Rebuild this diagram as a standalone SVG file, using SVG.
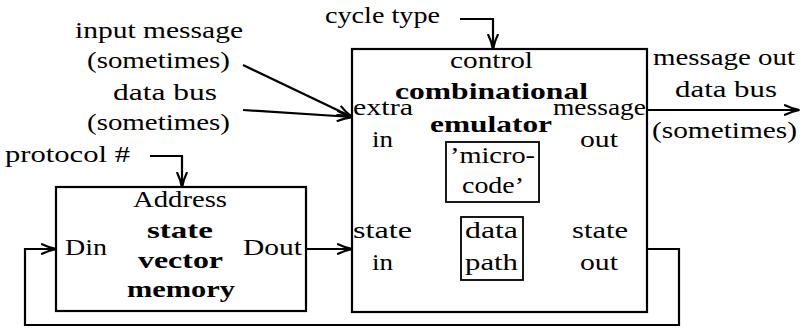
<svg xmlns="http://www.w3.org/2000/svg" width="802" height="328" viewBox="0 0 802 328">
  <style>
    text { font-family: "Liberation Serif", "Times New Roman", serif; font-size: 23px; fill: #000; }
    .b { font-weight: bold; }
    .box { fill: none; stroke: #000; stroke-width: 2.2; }
    .inner { fill: none; stroke: #000; stroke-width: 1.8; }
    .wire { fill: none; stroke: #000; stroke-width: 2.2; }
  </style>
  <defs>
    <marker id="arrow" viewBox="0 0 16 12" refX="15.5" refY="6" markerWidth="16" markerHeight="12" orient="auto" markerUnits="userSpaceOnUse">
      <path d="M0.5,0.8 Q8,4.6 16,6 Q8,7.4 0.5,11.2" fill="none" stroke="#000" stroke-width="2.2"/>
    </marker>
  </defs>

  <!-- free-standing labels -->
  <g id="labels">
    <text x="75" y="38" textLength="168" lengthAdjust="spacingAndGlyphs">input message</text>
    <text x="87" y="68" textLength="143" lengthAdjust="spacingAndGlyphs">(sometimes)</text>
    <text x="113" y="100" textLength="104" lengthAdjust="spacingAndGlyphs">data bus</text>
    <text x="87" y="130" textLength="143" lengthAdjust="spacingAndGlyphs">(sometimes)</text>
    <text x="5" y="162" textLength="125" lengthAdjust="spacingAndGlyphs">protocol #</text>
    <text x="325" y="23" textLength="115" lengthAdjust="spacingAndGlyphs">cycle type</text>
    <text x="653" y="65" textLength="142" lengthAdjust="spacingAndGlyphs">message out</text>
    <text x="675" y="97" textLength="102" lengthAdjust="spacingAndGlyphs">data bus</text>
    <text x="652" y="138" textLength="145" lengthAdjust="spacingAndGlyphs">(sometimes)</text>
  </g>

  <!-- state vector memory -->
  <g id="memory">
    <rect class="box" x="56" y="187" width="250" height="124"/>
    <text x="133" y="207" textLength="94" lengthAdjust="spacingAndGlyphs">Address</text>
    <text class="b" x="147" y="238" textLength="66" lengthAdjust="spacingAndGlyphs">state</text>
    <text class="b" x="138" y="268" textLength="85" lengthAdjust="spacingAndGlyphs">vector</text>
    <text class="b" x="127" y="297" textLength="108" lengthAdjust="spacingAndGlyphs">memory</text>
    <text x="65" y="255" textLength="42" lengthAdjust="spacingAndGlyphs">Din</text>
    <text x="243" y="255" textLength="59" lengthAdjust="spacingAndGlyphs">Dout</text>
  </g>

  <!-- combinational emulator -->
  <g id="emulator">
    <rect class="box" x="352" y="49" width="295" height="263"/>
    <text x="450" y="68" textLength="83" lengthAdjust="spacingAndGlyphs">control</text>
    <text class="b" x="395" y="99" textLength="193" lengthAdjust="spacingAndGlyphs">combinational</text>
    <text class="b" x="430" y="132" textLength="122" lengthAdjust="spacingAndGlyphs">emulator</text>
    <text x="353" y="115" textLength="60" lengthAdjust="spacingAndGlyphs">extra</text>
    <text x="372" y="147" textLength="21" lengthAdjust="spacingAndGlyphs">in</text>
    <text x="553" y="115" textLength="93" lengthAdjust="spacingAndGlyphs">message</text>
    <text x="580" y="147" textLength="38" lengthAdjust="spacingAndGlyphs">out</text>
    <text x="353" y="238" textLength="59" lengthAdjust="spacingAndGlyphs">state</text>
    <text x="372" y="270" textLength="21" lengthAdjust="spacingAndGlyphs">in</text>
    <text x="572" y="238" textLength="56" lengthAdjust="spacingAndGlyphs">state</text>
    <text x="580" y="270" textLength="38" lengthAdjust="spacingAndGlyphs">out</text>
  </g>

  <g id="microcode">
    <rect class="inner" x="446" y="142" width="93" height="60"/>
    <text x="450" y="163" textLength="85" lengthAdjust="spacingAndGlyphs">’micro-</text>
    <text x="462" y="193" textLength="62" lengthAdjust="spacingAndGlyphs">code’</text>
  </g>

  <g id="datapath">
    <rect class="inner" x="461" y="217" width="62" height="63"/>
    <text x="465" y="238" textLength="53" lengthAdjust="spacingAndGlyphs">data</text>
    <text x="465" y="270" textLength="53" lengthAdjust="spacingAndGlyphs">path</text>
  </g>

  <!-- connectors -->
  <g id="connectors">
    <path class="wire" d="M460,19 H493 V49" marker-end="url(#arrow)"/>
    <path class="wire" d="M150,156 H182 V187" marker-end="url(#arrow)"/>
    <path class="wire" d="M243,65 L352,117" marker-end="url(#arrow)"/>
    <path class="wire" d="M243,110 L352,117" marker-end="url(#arrow)"/>
    <path class="wire" d="M647,110 H799" marker-end="url(#arrow)"/>
    <path class="wire" d="M306,249 H352" marker-end="url(#arrow)"/>
    <path class="wire" d="M647,249 H679 V325 H25 V249 H56" marker-end="url(#arrow)"/>
  </g>
</svg>
